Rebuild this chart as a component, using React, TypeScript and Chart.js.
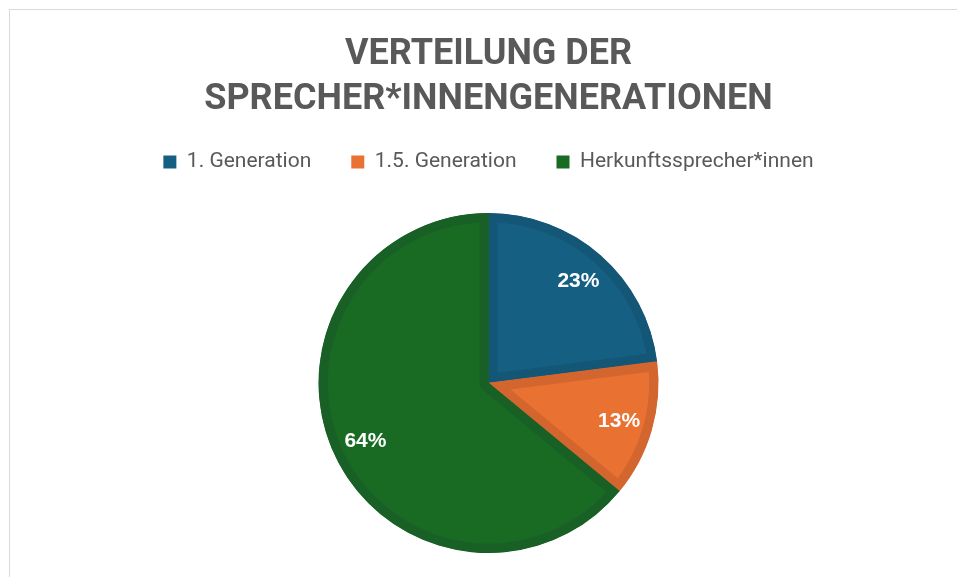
import React, { useEffect, useRef } from "react";
import { Chart, registerables } from "chart.js";

Chart.register(...registerables);

const titleLines = ["VERTEILUNG DER", "SPRECHER*INNENGENERATIONEN"];
const categories = ["1. Generation", "1.5. Generation", "Herkunftssprecher*innen"];
const values = [23, 13, 64];
const fillColors = ["#156082", "#E97132", "#196B24"];
const borderColors = ["#135676", "#D3662E", "#186025"];

const labelPlugin = {
  id: "pctLabels",
  afterDatasetsDraw(chart: any) {
    const ctx = chart.ctx;
    const meta = chart.getDatasetMeta(0);
    const data = chart.data.datasets[0].data as number[];
    const total = data.reduce((a, b) => a + b, 0);
    ctx.save();
    ctx.fillStyle = "#ffffff";
    ctx.font = "bold 21px 'Liberation Sans', Arial, sans-serif";
    ctx.textAlign = "center";
    ctx.textBaseline = "middle";
    meta.data.forEach((arc: any, i: number) => {
      const p = arc.getProps(["x", "y", "startAngle", "endAngle", "outerRadius"], true);
      const mid = (p.startAngle + p.endAngle) / 2;
      const r = p.outerRadius * 0.8;
      const x = p.x + Math.cos(mid) * r;
      const y = p.y + Math.sin(mid) * r;
      ctx.fillText(Math.round((data[i] / total) * 100) + "%", x, y);
    });
    ctx.restore();
  },
};

export default function App() {
  const ref = useRef<HTMLCanvasElement | null>(null);
  useEffect(() => {
    if (!ref.current) return;
    const chart = new Chart(ref.current, {
      type: "pie",
      data: {
        labels: categories,
        datasets: [
          {
            data: values,
            backgroundColor: fillColors,
            borderColor: borderColors,
            borderWidth: 9,
            borderAlign: "inner",
          } as any,
        ],
      },
      options: {
        responsive: false,
        animation: false,
        layout: { padding: { left: 20, right: 0, top: 0, bottom: 24 } },
        plugins: {
          title: {
            display: true,
            text: titleLines,
            color: "#595959",
            font: { family: "Roboto", size: 36, weight: "bold", lineHeight: 1.25 },
            padding: { top: 32, bottom: -10.5 },
          },
          subtitle: {
            display: true,
            text: " ",
            weight: 500,
            font: { size: 1, lineHeight: 1 },
            padding: { top: 29.5, bottom: 0 },
          } as any,
          legend: {
            position: "top",
            labels: {
              color: "#595959",
              font: { family: "Roboto", size: 21 },
              boxWidth: 13,
              boxHeight: 13,
              padding: 40,
              generateLabels(chart: any) {
                const items = (Chart as any).overrides.pie.plugins.legend.labels.generateLabels(chart);
                return items.map((it: any) => ({ ...it, lineWidth: 0, strokeStyle: it.fillStyle }));
              },
            },
          },
          tooltip: { enabled: false },
        },
      },
      plugins: [labelPlugin],
    });
    return () => chart.destroy();
  }, []);
  return (
    <div style={{ position: "absolute", left: 0, top: 0, width: 957, height: 577, overflow: "hidden", background: "#fff" }}>
      <div style={{ position: "absolute", left: 9, top: 9, width: 1000, height: 1000, border: "1px solid #d9d9d9" }} />
      <canvas ref={ref} width={957} height={577} style={{ position: "absolute", left: 0, top: 0 }} />
    </div>
  );
}
